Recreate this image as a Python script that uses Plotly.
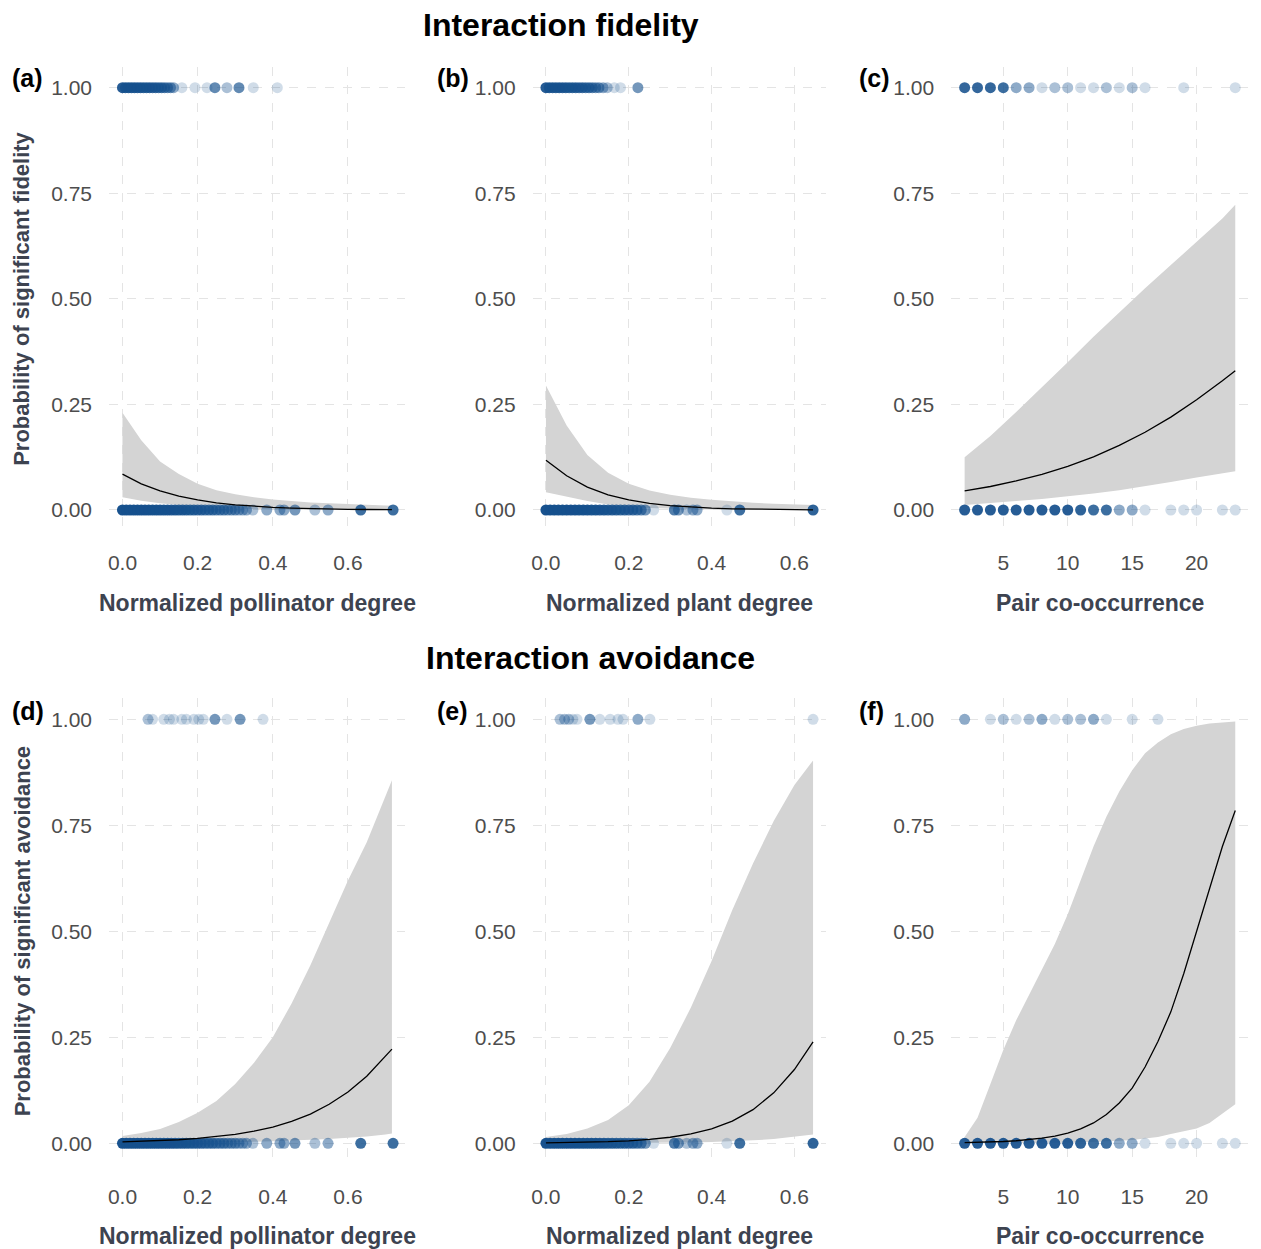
import plotly.graph_objects as go

# ---------------- data ----------------
# Fidelity / avoidance outcomes at 0 and 1: x positions with number of overlapping pairs

# (a) fidelity ~ normalized pollinator degree
a_one_x = [0.000, 0.008, 0.016, 0.024, 0.032, 0.040, 0.048, 0.056, 0.064, 0.072, 0.080,
           0.088, 0.096, 0.104, 0.112, 0.120, 0.128, 0.136, 0.158, 0.193, 0.225, 0.246,
           0.278, 0.310, 0.348, 0.412]
a_one_n = [12, 10, 10, 10, 10, 9, 9, 8, 8, 8, 7, 7, 6, 6, 5, 4, 4, 3, 1, 1, 1, 5, 2, 5, 1, 1]
a_zero_x = [0.000, 0.010, 0.020, 0.030, 0.040, 0.050, 0.060, 0.070, 0.080, 0.090, 0.100,
            0.110, 0.120, 0.130, 0.140, 0.150, 0.160, 0.170, 0.180, 0.190, 0.200, 0.210,
            0.220, 0.230, 0.240, 0.250, 0.260, 0.270, 0.280, 0.290, 0.300, 0.310, 0.320,
            0.330, 0.347, 0.384, 0.419, 0.430, 0.459, 0.512, 0.547, 0.634, 0.720]
a_zero_n = [20, 20, 20, 20, 20, 20, 18, 18, 16, 16, 15, 14, 14, 12, 12, 10, 10, 9, 8, 8,
            7, 7, 6, 6, 6, 5, 5, 5, 4, 4, 4, 3, 3, 3, 2, 3, 3, 3, 4, 2, 3, 8, 8]

# (b) fidelity ~ normalized plant degree
b_one_x = [0.000, 0.008, 0.016, 0.024, 0.032, 0.040, 0.048, 0.056, 0.064, 0.072, 0.080,
           0.088, 0.096, 0.104, 0.112, 0.120, 0.128, 0.138, 0.148, 0.165, 0.180, 0.222]
b_one_n = [12, 10, 10, 10, 10, 9, 9, 8, 8, 8, 7, 7, 6, 6, 5, 4, 4, 3, 2, 1, 1, 4]
b_zero_x = [0.000, 0.010, 0.020, 0.030, 0.040, 0.050, 0.060, 0.070, 0.080, 0.090, 0.100,
            0.110, 0.120, 0.130, 0.140, 0.150, 0.160, 0.170, 0.180, 0.190, 0.200, 0.210,
            0.220, 0.230, 0.240, 0.260, 0.310, 0.320, 0.340, 0.355, 0.365, 0.437, 0.468,
            0.645]
b_zero_n = [20, 20, 20, 20, 20, 20, 18, 18, 16, 16, 15, 14, 14, 12, 12, 10, 10, 9, 8, 8,
            7, 7, 6, 5, 4, 1, 6, 4, 2, 3, 3, 1, 8, 10]

# (c) fidelity ~ pair co-occurrence
c_one_x = [2, 3, 4, 5, 6, 7, 8, 9, 10, 11, 12, 13, 14, 15, 16, 19, 23]
c_one_n = [9, 9, 9, 8, 3, 3, 1, 2, 2, 1, 1, 2, 1, 2, 1, 1, 1]
c_zero_x = [2, 3, 4, 5, 6, 7, 8, 9, 10, 11, 12, 13, 14, 15, 16, 18, 19, 20, 22, 23]
c_zero_n = [12, 12, 12, 12, 12, 12, 12, 12, 12, 10, 8, 8, 3, 3, 1, 1, 1, 1, 1, 1]

# (d) avoidance ~ normalized pollinator degree
d_one_x = [0.068, 0.080, 0.110, 0.125, 0.136, 0.158, 0.170, 0.190, 0.203, 0.215, 0.246,
           0.278, 0.313, 0.374]
d_one_n = [2, 1, 1, 1, 1, 1, 1, 1, 1, 1, 4, 1, 4, 1]
d_zero_x = a_zero_x
d_zero_n = a_zero_n

# (e) avoidance ~ normalized plant degree
e_one_x = [0.034, 0.045, 0.055, 0.065, 0.075, 0.106, 0.130, 0.155, 0.174, 0.186, 0.222,
           0.251, 0.645]
e_one_n = [2, 2, 2, 1, 1, 4, 1, 1, 1, 1, 3, 1, 1]
e_zero_x = b_zero_x
e_zero_n = b_zero_n

# (f) avoidance ~ pair co-occurrence
f_one_x = [2, 4, 5, 6, 7, 8, 9, 10, 11, 12, 13, 15, 17]
f_one_n = [3, 1, 2, 1, 2, 3, 1, 2, 2, 3, 1, 1, 1]
f_zero_x = c_zero_x
f_zero_n = c_zero_n

# Fitted logistic curves with 95% confidence bands
deg_poll_grid = [0.0, 0.05, 0.1, 0.15, 0.2, 0.25, 0.3, 0.35, 0.4, 0.45, 0.5, 0.55, 0.6,
                 0.65, 0.7, 0.717]
deg_plant_grid = [0.0, 0.05, 0.1, 0.15, 0.2, 0.25, 0.3, 0.35, 0.4, 0.45, 0.5, 0.55, 0.6, 0.645]
cooc_grid_c = [2, 4, 6, 8, 10, 12, 14, 16, 18, 20, 22, 23]
cooc_grid_f = [2, 3, 4, 5, 6, 7, 8, 9, 10, 11, 12, 13, 14, 15, 16, 17, 18, 19, 20, 21, 22, 23]

a_fit = [0.085, 0.062, 0.045, 0.033, 0.024, 0.017, 0.0123, 0.0088, 0.0063, 0.0045, 0.0032,
         0.0023, 0.0016, 0.0012, 0.0008, 0.0007]
a_hi = [0.23, 0.165, 0.115, 0.085, 0.062, 0.047, 0.037, 0.030, 0.025, 0.021, 0.018, 0.016,
        0.014, 0.012, 0.011, 0.010]
a_lo = [0.030, 0.022, 0.016, 0.011, 0.0075, 0.005, 0.0033, 0.002, 0.0013, 0.0008, 0.0005,
        0.0003, 0.0002, 0.0001, 0.0001, 0.0001]

b_fit = [0.118, 0.081, 0.054, 0.036, 0.024, 0.0157, 0.0103, 0.0067, 0.0044, 0.0028, 0.0018,
         0.0012, 0.0008, 0.0005]
b_hi = [0.295, 0.20, 0.13, 0.088, 0.062, 0.046, 0.036, 0.029, 0.024, 0.020, 0.017, 0.015,
        0.013, 0.012]
b_lo = [0.042, 0.031, 0.021, 0.013, 0.008, 0.005, 0.003, 0.0017, 0.001, 0.0006, 0.0004,
        0.0002, 0.0001, 0.0001]

c_fit = [0.045, 0.0556, 0.0687, 0.0844, 0.1034, 0.126, 0.153, 0.184, 0.22, 0.261, 0.306, 0.33]
c_hi = [0.125, 0.175, 0.232, 0.29, 0.35, 0.41, 0.468, 0.525, 0.58, 0.635, 0.69, 0.723]
c_lo = [0.012, 0.016, 0.021, 0.026, 0.032, 0.039, 0.047, 0.056, 0.066, 0.077, 0.087, 0.092]

d_fit = [0.0033, 0.0046, 0.0062, 0.0084, 0.0114, 0.0155, 0.021, 0.0285, 0.0384, 0.0517,
         0.069, 0.092, 0.121, 0.158, 0.204, 0.222]
d_hi = [0.017, 0.024, 0.034, 0.05, 0.072, 0.10, 0.14, 0.19, 0.25, 0.33, 0.42, 0.52, 0.62,
        0.71, 0.82, 0.856]
d_lo = [0.0006, 0.0009, 0.0012, 0.0016, 0.002, 0.0025, 0.003, 0.0039, 0.005, 0.0063, 0.008,
        0.010, 0.013, 0.016, 0.021, 0.023]

e_fit = [0.001, 0.0016, 0.0024, 0.0038, 0.0059, 0.0092, 0.0143, 0.0222, 0.0342, 0.0525,
         0.0794, 0.119, 0.174, 0.239]
e_hi = [0.015, 0.022, 0.035, 0.055, 0.09, 0.145, 0.225, 0.32, 0.43, 0.55, 0.66, 0.76, 0.845,
        0.903]
e_lo = [0.0001, 0.0002, 0.0003, 0.0004, 0.0006, 0.0009, 0.0013, 0.002, 0.003, 0.0045, 0.007,
        0.01, 0.015, 0.021]

f_fit = [0.0015, 0.0021, 0.003, 0.0042, 0.006, 0.0085, 0.012, 0.017, 0.024, 0.034, 0.048,
         0.068, 0.095, 0.13, 0.18, 0.24, 0.31, 0.40, 0.50, 0.60, 0.70, 0.785]
f_hi = [0.015, 0.06, 0.14, 0.22, 0.29, 0.35, 0.41, 0.47, 0.54, 0.62, 0.70, 0.77, 0.83, 0.88,
        0.92, 0.945, 0.965, 0.977, 0.985, 0.99, 0.993, 0.995]
f_lo = [0.0, 0.0, 0.0001, 0.0002, 0.0003, 0.0004, 0.0006, 0.001, 0.0015, 0.002, 0.003, 0.004,
        0.006, 0.008, 0.011, 0.015, 0.022, 0.028, 0.035, 0.048, 0.07, 0.092]

degree_ticks = [0.0, 0.2, 0.4, 0.6]
degree_ticktext = ["0.0", "0.2", "0.4", "0.6"]
cooc_ticks = [5, 10, 15, 20]
cooc_ticktext = ["5", "10", "15", "20"]
prob_ticks = [0.0, 0.25, 0.5, 0.75, 1.0]
prob_ticktext = ["0.00", "0.25", "0.50", "0.75", "1.00"]

# ---------------- styling / geometry ----------------
W, H = 1261, 1249
POINT_COL = "#15508d"
BAND_COL = "#d4d4d4"
GRID_COL = "#e4e4e4"
TICK_COL = "#4d4d4d"
TITLE_COL = "#3d4350"
FONT = "Liberation Sans, Arial, sans-serif"
ALPHA = 0.2

# panel frames in pixels (left, right) and (top, bottom)
col_px = [(109.0, 405.4), (532.6, 826.4), (951.1, 1248.8)]
row_px = [(66.6, 531.1), (698.1, 1164.5)]
col_range = [[-0.03585, 0.75285], [-0.03225, 0.67725], [0.95, 24.05]]


def px_x(v):
    return v / W


def px_y(v):
    return 1 - v / H


panels = [
    ("a", a_one_x, a_one_n, a_zero_x, a_zero_n, deg_poll_grid, a_fit, a_lo, a_hi),
    ("b", b_one_x, b_one_n, b_zero_x, b_zero_n, deg_plant_grid, b_fit, b_lo, b_hi),
    ("c", c_one_x, c_one_n, c_zero_x, c_zero_n, cooc_grid_c, c_fit, c_lo, c_hi),
    ("d", d_one_x, d_one_n, d_zero_x, d_zero_n, deg_poll_grid, d_fit, d_lo, d_hi),
    ("e", e_one_x, e_one_n, e_zero_x, e_zero_n, deg_plant_grid, e_fit, e_lo, e_hi),
    ("f", f_one_x, f_one_n, f_zero_x, f_zero_n, cooc_grid_f, f_fit, f_lo, f_hi),
]

fig = go.Figure()
layout = {}
annotations = []

for i, (tag, ox, on, zx, zn, gx, fit, lo, hi) in enumerate(panels):
    r, c = divmod(i, 3)
    k = "" if i == 0 else str(i + 1)
    xref, yref = "x" + k, "y" + k

    # confidence band
    fig.add_trace(go.Scatter(x=gx, y=lo, mode="lines", line=dict(width=0, color=BAND_COL),
                             xaxis=xref, yaxis=yref, showlegend=False, hoverinfo="skip"))
    fig.add_trace(go.Scatter(x=gx, y=hi, mode="lines", line=dict(width=0, color=BAND_COL),
                             fill="tonexty", fillcolor=BAND_COL,
                             xaxis=xref, yaxis=yref, showlegend=False, hoverinfo="skip"))
    # observed outcomes, overlapping pairs darken the marker
    px_all = list(ox) + list(zx)
    py_all = [1.0] * len(ox) + [0.0] * len(zx)
    n_all = list(on) + list(zn)
    op = [1 - (1 - ALPHA) ** n for n in n_all]
    fig.add_trace(go.Scatter(x=px_all, y=py_all, mode="markers",
                             marker=dict(size=11, color=POINT_COL, opacity=op,
                                         line=dict(width=0)),
                             xaxis=xref, yaxis=yref, showlegend=False))
    # fitted curve
    fig.add_trace(go.Scatter(x=gx, y=fit, mode="lines", line=dict(color="black", width=1.3),
                             xaxis=xref, yaxis=yref, showlegend=False))

    xl, xr = col_px[c]
    yt, yb = row_px[r]
    is_cooc = c == 2
    layout["xaxis" + k] = dict(
        domain=[px_x(xl), px_x(xr)], range=col_range[c], anchor=yref,
        tickvals=cooc_ticks if is_cooc else degree_ticks,
        ticktext=cooc_ticktext if is_cooc else degree_ticktext,
        showgrid=True, gridcolor=GRID_COL, griddash="dash", gridwidth=1.3,
        zeroline=False, showline=False, ticks="",
        tickfont=dict(family=FONT, size=21, color=TICK_COL), ticklabelstandoff=17)
    layout["yaxis" + k] = dict(
        domain=[px_y(yb), px_y(yt)], range=[-0.05, 1.05], anchor=xref,
        tickvals=prob_ticks, ticktext=prob_ticktext,
        showgrid=True, gridcolor=GRID_COL, griddash="dash", gridwidth=1.3,
        zeroline=False, showline=False, ticks="",
        tickfont=dict(family=FONT, size=21, color=TICK_COL), ticklabelstandoff=16)

    # panel tag
    tag_x = [10, 435, 857][c]
    tag_y = [78, 711][r]
    annotations.append(dict(text="<b>(%s)</b>" % tag, x=px_x(tag_x), y=px_y(tag_y),
                            xref="paper", yref="paper", xanchor="left", yanchor="middle",
                            showarrow=False, font=dict(family=FONT, size=25, color="black")))
    # x axis title
    xtitle = ["Normalized pollinator degree", "Normalized plant degree",
              "Pair co-occurrence"][c]
    annotations.append(dict(text="<b>%s</b>" % xtitle, x=px_x((xl + xr) / 2),
                            y=px_y([603, 1236][r]), xref="paper", yref="paper",
                            xanchor="center", yanchor="middle", showarrow=False,
                            font=dict(family=FONT, size=23, color=TITLE_COL)))

# y axis titles
for r, txt in enumerate(["Probability of significant fidelity",
                         "Probability of significant avoidance"]):
    yt, yb = row_px[r]
    annotations.append(dict(text="<b>%s</b>" % txt, x=px_x(22), y=px_y((yt + yb) / 2),
                            xref="paper", yref="paper", xanchor="center", yanchor="middle",
                            textangle=-90, showarrow=False,
                            font=dict(family=FONT, size=22, color=TITLE_COL)))

# row titles
annotations.append(dict(text="<b>Interaction fidelity</b>", x=px_x(421), y=px_y(25),
                        xref="paper", yref="paper", xanchor="left", yanchor="middle",
                        showarrow=False, font=dict(family=FONT, size=32, color="black")))
annotations.append(dict(text="<b>Interaction avoidance</b>", x=px_x(424), y=px_y(658),
                        xref="paper", yref="paper", xanchor="left", yanchor="middle",
                        showarrow=False, font=dict(family=FONT, size=32, color="black")))

fig.update_layout(width=W, height=H, margin=dict(l=0, r=0, t=0, b=0),
                  paper_bgcolor="white", plot_bgcolor="white",
                  annotations=annotations, **layout)

fig.write_html("out.html")
